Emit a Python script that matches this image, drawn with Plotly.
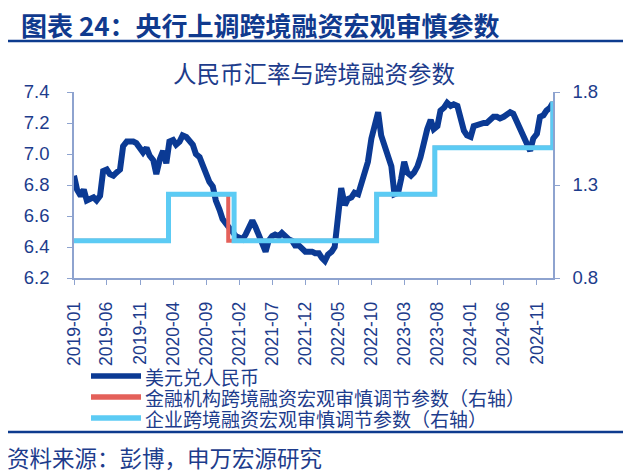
import plotly.graph_objects as go

# ---------------- data ----------------
# semi-monthly observation dates (1st and 15th of each month) + last two points
YEARS = [2019, 2020, 2021, 2022, 2023, 2024]
DATES = [f"{y}-{m:02d}-{d:02d}" for y in YEARS for m in range(1, 13) for d in (1, 15)] + ["2025-01-01", "2025-01-13"]

USDCNY_2019 = [6.86, 6.77, 6.73, 6.77, 6.70, 6.71, 6.72, 6.70, 6.73, 6.89, 6.90, 6.87,
               6.86, 6.88, 6.90, 7.05, 7.08, 7.08, 7.08, 7.07, 7.03, 7.01, 7.04, 6.99]
USDCNY_2020 = [6.96, 6.87, 6.97, 7.02, 6.94, 7.08, 7.09, 7.06, 7.08, 7.12, 7.11, 7.08,
               7.06, 7.00, 6.98, 6.93, 6.87, 6.82, 6.79, 6.70, 6.64, 6.58, 6.55, 6.52]
USDCNY_2021 = [6.50, 6.47, 6.46, 6.45, 6.48, 6.52, 6.57, 6.53, 6.48, 6.44, 6.37, 6.44,
               6.47, 6.48, 6.47, 6.49, 6.46, 6.45, 6.44, 6.41, 6.41, 6.39, 6.37, 6.37]
USDCNY_2022 = [6.37, 6.36, 6.36, 6.33, 6.31, 6.35, 6.37, 6.40, 6.62, 6.78, 6.67, 6.71,
               6.72, 6.75, 6.74, 6.80, 6.90, 6.95, 7.10, 7.18, 7.27, 7.12, 7.06, 6.98]
USDCNY_2023 = [6.92, 6.74, 6.75, 6.84, 6.95, 6.88, 6.86, 6.88, 6.92, 6.98, 7.10, 7.16,
               7.22, 7.16, 7.18, 7.28, 7.30, 7.33, 7.31, 7.32, 7.31, 7.22, 7.15, 7.12]
USDCNY_2024 = [7.11, 7.18, 7.19, 7.20, 7.20, 7.20, 7.23, 7.24, 7.24, 7.23, 7.24, 7.25,
               7.27, 7.26, 7.21, 7.16, 7.10, 7.08, 7.02, 7.10, 7.13, 7.24, 7.25, 7.28]
USDCNY_2025 = [7.30, 7.33]
USDCNY = USDCNY_2019 + USDCNY_2020 + USDCNY_2021 + USDCNY_2022 + USDCNY_2023 + USDCNY_2024 + USDCNY_2025

# macro-prudential parameters (step series: value from each date on)
FIN_DATES = ["2019-01-01", "2020-03-11", "2020-12-11", "2022-10-25", "2023-07-20", "2025-01-13"]
FIN_PARAM = [1.0, 1.25, 1.0, 1.25, 1.5, 1.75]
ENT_DATES = ["2019-01-01", "2020-03-11", "2021-01-07", "2022-10-25", "2023-07-20", "2025-01-13"]
ENT_PARAM = [1.0, 1.25, 1.0, 1.25, 1.5, 1.75]

TICK_DATES = ["2019-01-01", "2019-06-01", "2019-11-01", "2020-04-01", "2020-09-01",
              "2021-02-01", "2021-07-01", "2021-12-01", "2022-05-01", "2022-10-01",
              "2023-03-01", "2023-08-01", "2024-01-01", "2024-06-01", "2024-11-01"]
TICK_LABELS = ["2019-01", "2019-06", "2019-11", "2020-04", "2020-09", "2021-02", "2021-07",
               "2021-12", "2022-05", "2022-10", "2023-03", "2023-08", "2024-01", "2024-06", "2024-11"]

NAMES = ["美元兑人民币", "金融机构跨境融资宏观审慎调节参数（右轴）", "企业跨境融资宏观审慎调节参数（右轴）"]

# ---------------- style ----------------
DARK = "#0b3a94"
RED = "#e4605a"
LIGHT = "#5ccbf4"
COLORS = [DARK, RED, LIGHT]
WIDTHS = [6, 4, 5]
TXT = "#1d3c8c"
AXIS = "#8ea3cf"
FONT = "Liberation Sans, Noto Sans CJK SC, sans-serif"
CJK = "Noto Sans CJK SC, sans-serif"

# page body has an 8px margin: figure pixel = reference pixel - 8
W, H = 623, 464
L, R, T, B = 66, 78, 84, 194
PW, PH = W - L - R, H - T - B


def px(xr):  # reference pixel x -> paper x
    return (xr - 8 - L) / PW


def py(yr):  # reference pixel y -> paper y
    return (H - B - (yr - 8)) / PH


fig = go.Figure()
fig.add_trace(go.Scatter(x=DATES, y=USDCNY, name=NAMES[0], mode="lines",
                         line=dict(color=DARK, width=WIDTHS[0])))
fig.add_trace(go.Scatter(x=FIN_DATES, y=FIN_PARAM, name=NAMES[1], mode="lines", yaxis="y2",
                         line=dict(color=RED, width=WIDTHS[1], shape="hv")))
fig.add_trace(go.Scatter(x=ENT_DATES, y=ENT_PARAM, name=NAMES[2], mode="lines", yaxis="y2",
                         line=dict(color=LIGHT, width=WIDTHS[2], shape="hv")))

fig.update_layout(
    width=W, height=H, autosize=False,
    margin=dict(l=L, r=R, t=T, b=B, pad=0),
    paper_bgcolor="white", plot_bgcolor="white",
    font=dict(family=FONT, color=TXT),
    showlegend=False,
    xaxis=dict(type="date", range=["2019-01-01", "2025-01-14"],
               tickmode="array", tickvals=TICK_DATES, ticktext=TICK_LABELS,
               tickangle=-90, ticks="outside", ticklen=5, tickcolor=AXIS,
               showline=True, linecolor=AXIS, linewidth=1.5, showgrid=False, zeroline=False,
               tickfont=dict(size=17.5, color=TXT, family=FONT), automargin=False,
               ticklabelstandoff=10),
    yaxis=dict(range=[6.2, 7.4], dtick=0.2, tick0=6.2, tickformat=".1f",
               ticks="outside", ticklen=5, tickcolor=AXIS,
               showline=True, linecolor=AXIS, linewidth=1.5, showgrid=False, zeroline=False,
               tickfont=dict(size=18.5, color=TXT, family=FONT), automargin=False,
               ticklabelstandoff=14),
    yaxis2=dict(range=[0.8, 1.8], tickmode="array", tickvals=[0.8, 1.3, 1.8], tickformat=".1f",
                overlaying="y", side="right",
                ticks="outside", ticklen=5, tickcolor=AXIS,
                showline=True, linecolor=AXIS, linewidth=1.5, showgrid=False, zeroline=False,
                tickfont=dict(size=18.5, color=TXT, family=FONT), automargin=False,
                ticklabelstandoff=9),
)

# legend (drawn as sample lines + text, rows 21px apart like the reference)
LEG_ROWS = [376, 397, 418]
for name, color, width, yr in zip(NAMES, COLORS, WIDTHS, LEG_ROWS):
    fig.add_shape(type="line", xref="paper", yref="paper", x0=px(91), x1=px(141),
                  y0=py(yr), y1=py(yr), line=dict(color=color, width=5.5))
    fig.add_annotation(text=name, xref="paper", yref="paper", x=px(143), y=py(yr),
                       xanchor="left", yanchor="middle", showarrow=False,
                       font=dict(family=CJK, size=19, color=TXT))

fig.add_annotation(text="<b>图表 24：央行上调跨境融资宏观审慎参数</b>", xref="paper", yref="paper",
                   x=px(19), y=py(24), xanchor="left", yanchor="middle", showarrow=False,
                   font=dict(family=CJK, size=26, color="#103a8e"))
fig.add_annotation(text="人民币汇率与跨境融资参数", xref="paper", yref="paper",
                   x=px(314), y=py(73), xanchor="center", yanchor="middle", showarrow=False,
                   font=dict(family=CJK, size=23.5, color=TXT))
fig.add_annotation(text="资料来源：彭博，申万宏源研究", xref="paper", yref="paper",
                   x=px(5), y=py(457), xanchor="left", yanchor="middle", showarrow=False,
                   font=dict(family=CJK, size=22.5, color=TXT))

fig.add_shape(type="line", xref="paper", yref="paper", x0=px(6), x1=px(625), y0=py(41), y1=py(41),
              line=dict(color="#0d3b8e", width=2.5))
fig.add_shape(type="line", xref="paper", yref="paper", x0=px(6), x1=px(625), y0=py(432), y1=py(432),
              line=dict(color="#0d3b8e", width=2.5))

fig.write_html("out.html")
